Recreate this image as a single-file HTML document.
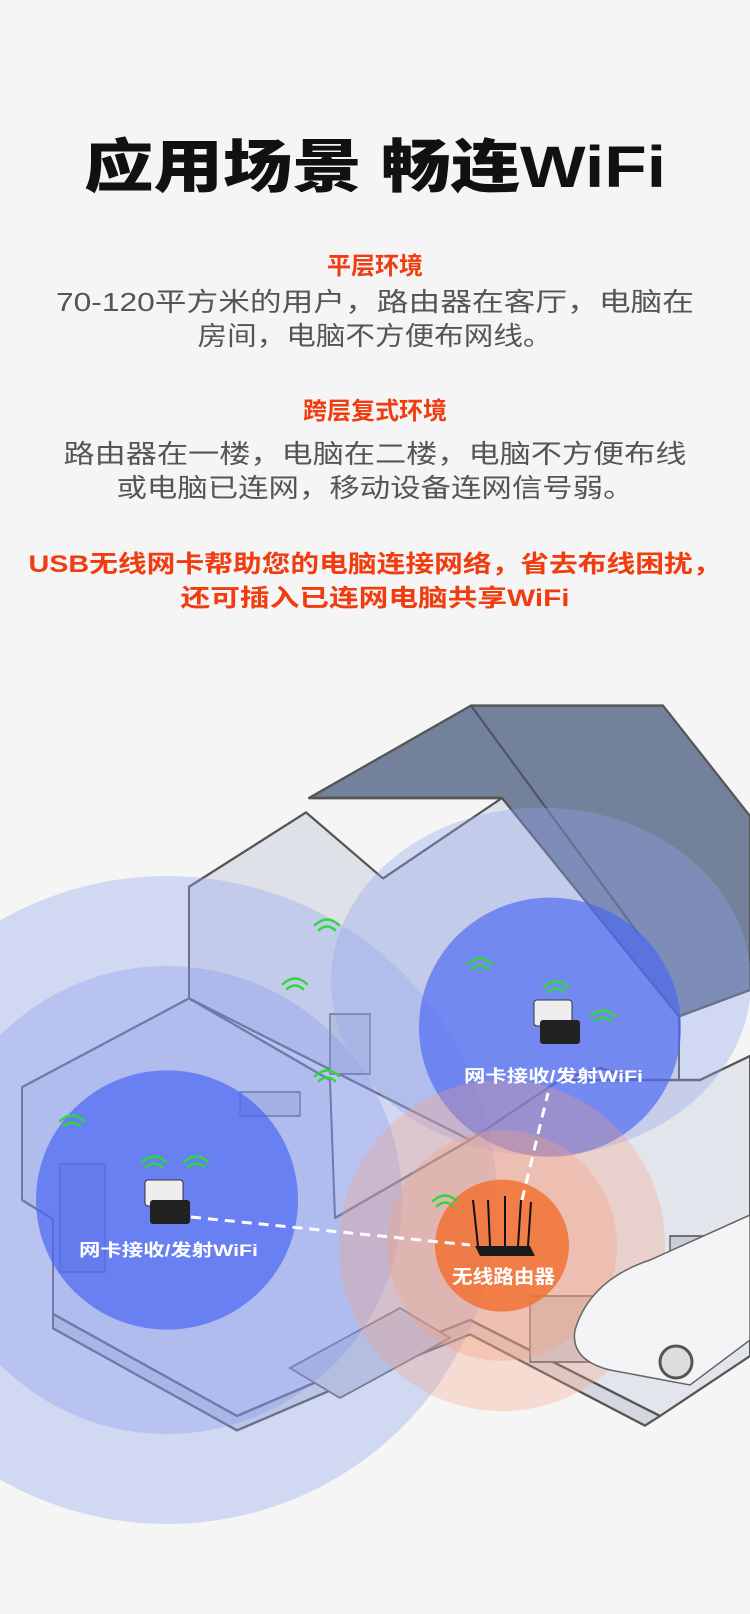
<!DOCTYPE html>
<html><head><meta charset="utf-8"><style>
html,body{margin:0;padding:0;background:#f5f5f5;}
svg{display:block}
text{font-family:"Liberation Sans","Noto Sans CJK SC",sans-serif;}
</style></head><body>
<svg width="750" height="1614" viewBox="0 0 750 1614" xmlns="http://www.w3.org/2000/svg">
<rect width="750" height="1614" fill="#f5f5f5"/>
<text x="375" y="187" text-anchor="middle" font-size="58" font-weight="900" fill="#111" textLength="582" lengthAdjust="spacingAndGlyphs">应用场景 畅连WiFi</text>
<text x="375" y="274" text-anchor="middle" font-size="24" font-weight="700" fill="#f03c0e">平层环境</text>
<text x="375" y="311" text-anchor="middle" font-size="26" fill="#555" textLength="638" lengthAdjust="spacingAndGlyphs">70-120平方米的用户，路由器在客厅，电脑在</text>
<text x="375" y="345" text-anchor="middle" font-size="26" fill="#555" textLength="355" lengthAdjust="spacingAndGlyphs">房间，电脑不方便布网线。</text>
<text x="375" y="419" text-anchor="middle" font-size="24" font-weight="700" fill="#f03c0e">跨层复式环境</text>
<text x="375" y="463" text-anchor="middle" font-size="26" fill="#555" textLength="623" lengthAdjust="spacingAndGlyphs">路由器在一楼，电脑在二楼，电脑不方便布线</text>
<text x="375" y="497" text-anchor="middle" font-size="26" fill="#555" textLength="517" lengthAdjust="spacingAndGlyphs">或电脑已连网，移动设备连网信号弱。</text>
<text x="375" y="572" text-anchor="middle" font-size="24" font-weight="700" fill="#f03c0e" textLength="693" lengthAdjust="spacingAndGlyphs">USB无线网卡帮助您的电脑连接网络，省去布线困扰，</text>
<text x="375" y="606" text-anchor="middle" font-size="24" font-weight="700" fill="#f03c0e" textLength="389" lengthAdjust="spacingAndGlyphs">还可插入已连网电脑共享WiFi</text>

<g transform="translate(0,660) scale(1,1.2) translate(0,-660)">
<g stroke="#555" stroke-width="2" stroke-linejoin="round">
 <polygon points="189,849 306,787 383,842 502,775 679,957 679,1020 600,1000 560,1010 470,1060 189,942" fill="#dfe1e8"/>
 <polygon points="22,1016 189,942 330,1010 335,1125 470,1060 560,1010 700,1010 750,990 750,1240 660,1290 470,1210 335,1255 237,1290 53,1205 53,1126 22,1110" fill="#e3e5ec"/>
 <polygon points="53,1205 237,1290 335,1255 470,1210 660,1290 645,1298 470,1222 335,1267 237,1302 53,1217" fill="#d4d7df"/>
 <polygon points="309,775 471,698 663,698 750,790 750,935 679,957 502,775" fill="#74819b"/>
 <line x1="309" y1="775" x2="502" y2="775"/>
 <line x1="471" y1="698" x2="640" y2="890" stroke="#4a5568"/>
</g>
<g fill="#c9ccd6" stroke="#666" stroke-width="1.5">
 <rect x="330" y="955" width="40" height="50"/>
 <rect x="60" y="1080" width="45" height="90"/>
 <rect x="240" y="1020" width="60" height="20"/>
 <polygon points="290,1250 400,1200 450,1225 340,1275"/>
 <rect x="530" y="1190" width="70" height="55"/>
 <rect x="670" y="1140" width="38" height="40"/>
</g>

<ellipse cx="167" cy="1110" rx="330" ry="270" fill="#8ea2ef" opacity="0.35"/>
<ellipse cx="167" cy="1110" rx="235" ry="195" fill="#7d93ef" opacity="0.3"/>
<ellipse cx="167" cy="1110" rx="131" ry="108" fill="#4a66f2" opacity="0.7"/>
<ellipse cx="541" cy="928" rx="210" ry="145" fill="#8ea2ef" opacity="0.35"/>
<ellipse cx="550" cy="966" rx="131" ry="108" fill="#4a66f2" opacity="0.65"/>
<ellipse cx="502" cy="1148" rx="163" ry="138" fill="#f4a080" opacity="0.3"/>
<ellipse cx="502" cy="1148" rx="115" ry="96" fill="#f4a080" opacity="0.35"/>
<ellipse cx="502" cy="1148" rx="67" ry="55" fill="#f27232" opacity="0.85"/>
</g>

<path d="M575,1330 Q590,1280 650,1260 L750,1215 L750,1340 L690,1385 L610,1370 Q570,1360 575,1330Z" fill="#f4f4f6" stroke="#666" stroke-width="1.5"/>
<circle cx="676" cy="1362" r="16" fill="#ddd" stroke="#555" stroke-width="3"/>

<g>
 <rect x="145" y="1180" width="38" height="26" rx="3" fill="#eee" stroke="#333"/>
 <rect x="150" y="1200" width="40" height="24" rx="3" fill="#222"/>
 <rect x="534" y="1000" width="38" height="26" rx="3" fill="#eee" stroke="#333"/>
 <rect x="540" y="1020" width="40" height="24" rx="3" fill="#222"/>
 <polygon points="475,1246 530,1246 535,1256 480,1256" fill="#1a1a1a"/>
 <g stroke="#111" stroke-width="2"><line x1="478" y1="1246" x2="473" y2="1200"/><line x1="490" y1="1246" x2="488" y2="1200"/><line x1="505" y1="1246" x2="505" y2="1196"/><line x1="518" y1="1246" x2="521" y2="1200"/><line x1="528" y1="1246" x2="531" y2="1202"/></g>
</g>
<g fill="none" stroke="#fff" stroke-width="3" stroke-dasharray="10,7">
 <line x1="191" y1="1217" x2="470" y2="1245"/>
 <line x1="522" y1="1200" x2="548" y2="1093"/>
</g>
<g fill="none" stroke="#2ed83a" stroke-width="2.5" stroke-linecap="round">
 <path d="M64,1126 q8,-7 16,0 M60,1121 q12,-11 24,0"/>
 <path d="M146,1167 q8,-7 16,0 M142,1162 q12,-11 24,0"/>
 <path d="M188,1167 q8,-7 16,0 M184,1162 q12,-11 24,0"/>
 <path d="M319,930 q8,-7 16,0 M315,925 q12,-11 24,0"/>
 <path d="M287,989 q8,-7 16,0 M283,984 q12,-11 24,0"/>
 <path d="M319,1081 q8,-7 16,0 M315,1076 q12,-11 24,0"/>
 <path d="M472,969 q8,-7 16,0 M468,964 q12,-11 24,0"/>
 <path d="M548,992 q8,-7 16,0 M544,987 q12,-11 24,0"/>
 <path d="M595,1021 q8,-7 16,0 M591,1016 q12,-11 24,0"/>
 <path d="M437,1206 q8,-7 16,0 M433,1201 q12,-11 24,0"/>
</g>
<text x="79" y="1256" font-size="17" font-weight="700" fill="#fff" textLength="179" lengthAdjust="spacingAndGlyphs">网卡接收/发射WiFi</text>
<text x="464" y="1082" font-size="17" font-weight="700" fill="#fff" textLength="179" lengthAdjust="spacingAndGlyphs">网卡接收/发射WiFi</text>
<text x="452" y="1283" font-size="19" font-weight="700" fill="#fff" textLength="103" lengthAdjust="spacingAndGlyphs">无线路由器</text>
</svg>
</body></html>
